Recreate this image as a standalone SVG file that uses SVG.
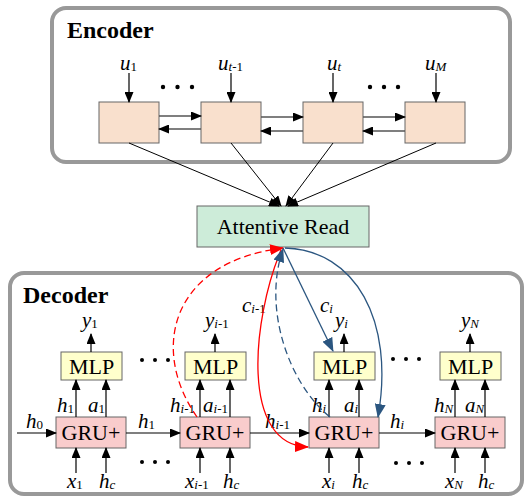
<svg xmlns="http://www.w3.org/2000/svg" width="524" height="497" viewBox="0 0 524 497">
  <defs>
    <marker id="ah" markerUnits="userSpaceOnUse" markerWidth="11" markerHeight="9" refX="10" refY="4.5" orient="auto">
      <path d="M0,0 L11,4.5 L0,9 z" fill="#000"/>
    </marker>
    <marker id="ahRed" markerUnits="userSpaceOnUse" markerWidth="14" markerHeight="11" refX="13" refY="5.5" orient="auto">
      <path d="M0,0 L14,5.5 L0,11 z" fill="#ff0000"/>
    </marker>
    <marker id="ahBlue" markerUnits="userSpaceOnUse" markerWidth="14" markerHeight="11" refX="13" refY="5.5" orient="auto">
      <path d="M0,0 L14,5.5 L0,11 z" fill="#2b5680"/>
    </marker>
  </defs>
  <style>
    text { font-family: "Liberation Serif", "Times New Roman", "DejaVu Serif", serif; }
    .panel { fill: #fff; stroke: #999; stroke-width: 4; }
    .title { font-weight: bold; font-size: 24px; fill: #000; }
    .enc { fill: #f9e0cd; stroke: #666; stroke-width: 1; }
    .mlp { fill: #ffffcc; stroke: #666; stroke-width: 1; }
    .gru { fill: #f9cccc; stroke: #666; stroke-width: 1; }
    .att { fill: #cdecd9; stroke: #666; stroke-width: 1; }
    .box-text { font-size: 22px; fill: #000; text-anchor: middle; }
    .lbl text { font-size: 21px; font-style: italic; fill: #000; }
    .sub { font-size: 13px; font-style: normal; }
    .subi { font-size: 13px; font-style: italic; }
    .arr { stroke: #000; stroke-width: 1.2; fill: none; marker-end: url(#ah); }
    .garr { stroke: #555; stroke-width: 1.5; fill: none; marker-end: url(#ah); }
    .thin { stroke: #000; stroke-width: 1; fill: none; marker-end: url(#ah); }
    .red { stroke: #ff0000; stroke-width: 1.3; fill: none; marker-end: url(#ahRed); }
    .blue { stroke: #2b5680; stroke-width: 1.3; fill: none; marker-end: url(#ahBlue); }
    .dash { stroke-dasharray: 7 4; }
    .dot { fill: #000; }
  </style>

  <!-- panels -->
  <g id="encoder-panel">
    <rect class="panel" x="52" y="8" width="458" height="154" rx="14"/>
    <text class="title" x="67" y="38">Encoder</text>
  </g>
  <g id="decoder-panel">
    <rect class="panel" x="10" y="273" width="512" height="221" rx="14"/>
    <text class="title" x="23" y="303">Decoder</text>
  </g>

  <!-- encoder cells -->
  <g id="enc1"><rect class="enc" x="99" y="102" width="60" height="41"/></g>
  <g id="enc2"><rect class="enc" x="201" y="102" width="60" height="41"/></g>
  <g id="enc3"><rect class="enc" x="303" y="102" width="60" height="41"/></g>
  <g id="enc4"><rect class="enc" x="405" y="102" width="60" height="41"/></g>

  <!-- encoder inputs -->
  <g id="enc-labels" class="lbl">
    <text x="120" y="70">u<tspan class="sub" dy="1">1</tspan></text>
    <text x="218" y="70">u<tspan class="subi" dy="1">t</tspan><tspan class="sub">-1</tspan></text>
    <text x="327" y="70">u<tspan class="subi" dy="1">t</tspan></text>
    <text x="425" y="70">u<tspan class="subi" dy="1">M</tspan></text>
  </g>

  <!-- attentive read -->
  <g id="attentive-read">
    <rect class="att" x="197" y="206" width="172" height="41"/>
    <text class="box-text" x="283" y="234">Attentive Read</text>
  </g>

  <!-- decoder cells -->
  <g id="mlp1"><rect class="mlp" x="61" y="352" width="61" height="28"/><text class="box-text" x="91.5" y="374">MLP</text></g>
  <g id="mlp2"><rect class="mlp" x="185" y="352" width="61" height="28"/><text class="box-text" x="215.5" y="374">MLP</text></g>
  <g id="mlp3"><rect class="mlp" x="314" y="352" width="61" height="28"/><text class="box-text" x="344.5" y="374">MLP</text></g>
  <g id="mlp4"><rect class="mlp" x="440" y="352" width="61" height="28"/><text class="box-text" x="470.5" y="374">MLP</text></g>

  <g id="gru1"><rect class="gru" x="56" y="417" width="70" height="31"/><text class="box-text" x="91" y="440">GRU+</text></g>
  <g id="gru2"><rect class="gru" x="180" y="417" width="70" height="31"/><text class="box-text" x="215" y="440">GRU+</text></g>
  <g id="gru3"><rect class="gru" x="309" y="417" width="70" height="31"/><text class="box-text" x="344" y="440">GRU+</text></g>
  <g id="gru4"><rect class="gru" x="435" y="417" width="70" height="31"/><text class="box-text" x="470" y="440">GRU+</text></g>

  <!-- ellipsis dots -->
  <g id="dots">
    <circle class="dot" cx="163" cy="87" r="2.2"/><circle class="dot" cx="177.5" cy="87" r="2.2"/><circle class="dot" cx="192" cy="87" r="2.2"/>
    <circle class="dot" cx="370" cy="87" r="2.2"/><circle class="dot" cx="384" cy="87" r="2.2"/><circle class="dot" cx="398" cy="87" r="2.2"/>
    <circle class="dot" cx="142" cy="360" r="2"/><circle class="dot" cx="155" cy="360" r="2"/><circle class="dot" cx="168" cy="360" r="2"/>
    <circle class="dot" cx="393" cy="359" r="2"/><circle class="dot" cx="406" cy="359" r="2"/><circle class="dot" cx="419" cy="359" r="2"/>
    <circle class="dot" cx="142" cy="462" r="2"/><circle class="dot" cx="155" cy="462" r="2"/><circle class="dot" cx="168" cy="462" r="2"/>
    <circle class="dot" cx="396" cy="463" r="2"/><circle class="dot" cx="409" cy="463" r="2"/><circle class="dot" cx="422" cy="463" r="2"/>
  </g>

  <!-- decoder labels -->
  <g id="dec-labels" class="lbl">
    <!-- outputs -->
    <text x="82" y="327">y<tspan class="sub" dy="1">1</tspan></text>
    <text x="205" y="327">y<tspan class="subi" dy="1">i</tspan><tspan class="sub">-1</tspan></text>
    <text x="335" y="327">y<tspan class="subi" dy="1">i</tspan></text>
    <text x="461" y="327">y<tspan class="subi" dy="1">N</tspan></text>
    <!-- hidden / attention between GRU+ and MLP -->
    <text x="57" y="412">h<tspan class="sub" dy="1">1</tspan></text>
    <text x="88" y="412">a<tspan class="sub" dy="1">1</tspan></text>
    <text x="170" y="412">h<tspan class="subi" dy="1">i</tspan><tspan class="sub">-1</tspan></text>
    <text x="203" y="412">a<tspan class="subi" dy="1">i</tspan><tspan class="sub">-1</tspan></text>
    <text x="312" y="412">h<tspan class="subi" dy="1">i</tspan></text>
    <text x="344" y="412">a<tspan class="subi" dy="1">i</tspan></text>
    <text x="434" y="412">h<tspan class="subi" dy="1">N</tspan></text>
    <text x="465" y="412">a<tspan class="subi" dy="1">N</tspan></text>
    <!-- recurrent states -->
    <text x="26" y="428">h<tspan class="sub" dy="1">0</tspan></text>
    <text x="138" y="428">h<tspan class="sub" dy="1">1</tspan></text>
    <text x="265" y="428">h<tspan class="subi" dy="1">i</tspan><tspan class="sub">-1</tspan></text>
    <text x="390" y="428">h<tspan class="subi" dy="1">i</tspan></text>
    <!-- inputs -->
    <text x="67" y="488">x<tspan class="sub" dy="1">1</tspan></text>
    <text x="99" y="488">h<tspan class="subi" dy="1">c</tspan></text>
    <text x="185" y="488">x<tspan class="subi" dy="1">i</tspan><tspan class="sub">-1</tspan></text>
    <text x="223" y="488">h<tspan class="subi" dy="1">c</tspan></text>
    <text x="322" y="488">x<tspan class="subi" dy="1">i</tspan></text>
    <text x="352" y="488">h<tspan class="subi" dy="1">c</tspan></text>
    <text x="445" y="488">x<tspan class="subi" dy="1">N</tspan></text>
    <text x="478" y="488">h<tspan class="subi" dy="1">c</tspan></text>
    <!-- context vectors -->
    <text x="242" y="312">c<tspan class="subi" dy="1">i</tspan><tspan class="sub">-1</tspan></text>
    <text x="320" y="312">c<tspan class="subi" dy="1">i</tspan></text>
  </g>

  <!-- connectors -->
  <g id="connectors">
    <!-- encoder inputs -->
    <line class="arr" x1="129" y1="73" x2="129" y2="102"/>
    <line class="arr" x1="231" y1="73" x2="231" y2="102"/>
    <line class="arr" x1="333" y1="73" x2="333" y2="102"/>
    <line class="arr" x1="436" y1="73" x2="436" y2="102"/>
    <!-- bidirectional encoder links -->
    <line class="garr" x1="159" y1="116" x2="201" y2="116"/>
    <line class="garr" x1="201" y1="129" x2="159" y2="129"/>
    <line class="garr" x1="261" y1="117" x2="303" y2="117"/>
    <line class="garr" x1="303" y1="131" x2="261" y2="131"/>
    <line class="garr" x1="363" y1="117" x2="405" y2="117"/>
    <line class="garr" x1="405" y1="131" x2="363" y2="131"/>
    <!-- encoder states to attentive read -->
    <line class="thin" x1="129" y1="143" x2="279" y2="206"/>
    <line class="thin" x1="231" y1="143" x2="281" y2="206"/>
    <line class="thin" x1="333" y1="143" x2="286" y2="206"/>
    <line class="thin" x1="436" y1="143" x2="288" y2="206"/>

    <!-- MLP outputs -->
    <line class="arr" x1="91" y1="352" x2="91" y2="334"/>
    <line class="arr" x1="215" y1="352" x2="215" y2="334"/>
    <line class="arr" x1="344" y1="352" x2="344" y2="334"/>
    <line class="arr" x1="470" y1="352" x2="470" y2="334"/>
    <!-- GRU+ to MLP -->
    <line class="arr" x1="76" y1="417" x2="76" y2="380"/>
    <line class="arr" x1="106" y1="417" x2="106" y2="380"/>
    <line class="arr" x1="200" y1="417" x2="200" y2="380"/>
    <line class="arr" x1="230" y1="417" x2="230" y2="380"/>
    <line class="arr" x1="329" y1="417" x2="329" y2="380"/>
    <line class="arr" x1="359" y1="417" x2="359" y2="380"/>
    <line class="arr" x1="455" y1="417" x2="455" y2="380"/>
    <line class="arr" x1="485" y1="417" x2="485" y2="380"/>
    <!-- GRU+ inputs -->
    <line class="arr" x1="76" y1="473" x2="76" y2="448"/>
    <line class="arr" x1="106" y1="473" x2="106" y2="448"/>
    <line class="arr" x1="200" y1="473" x2="200" y2="448"/>
    <line class="arr" x1="230" y1="473" x2="230" y2="448"/>
    <line class="arr" x1="329" y1="473" x2="329" y2="448"/>
    <line class="arr" x1="359" y1="473" x2="359" y2="448"/>
    <line class="arr" x1="455" y1="473" x2="455" y2="448"/>
    <line class="arr" x1="485" y1="473" x2="485" y2="448"/>
    <!-- recurrence -->
    <line class="arr" x1="17" y1="433" x2="56" y2="433"/>
    <line class="arr" x1="126" y1="433" x2="180" y2="433"/>
    <line class="arr" x1="250" y1="433" x2="309" y2="433"/>
    <line class="arr" x1="379" y1="433" x2="435" y2="433"/>

    <!-- attention flow -->
    <path class="red dash" d="M197,417 C150,350 170,262 283,248"/>
    <path class="red" d="M281,250 C252,320 240,445 308,447"/>
    <path class="blue dash" d="M330,417 C290,385 262,310 283,249"/>
    <path class="blue" d="M283,248 L333,351"/>
    <path class="blue" d="M285,248 C355,250 395,320 378,417"/>
  </g>
</svg>
